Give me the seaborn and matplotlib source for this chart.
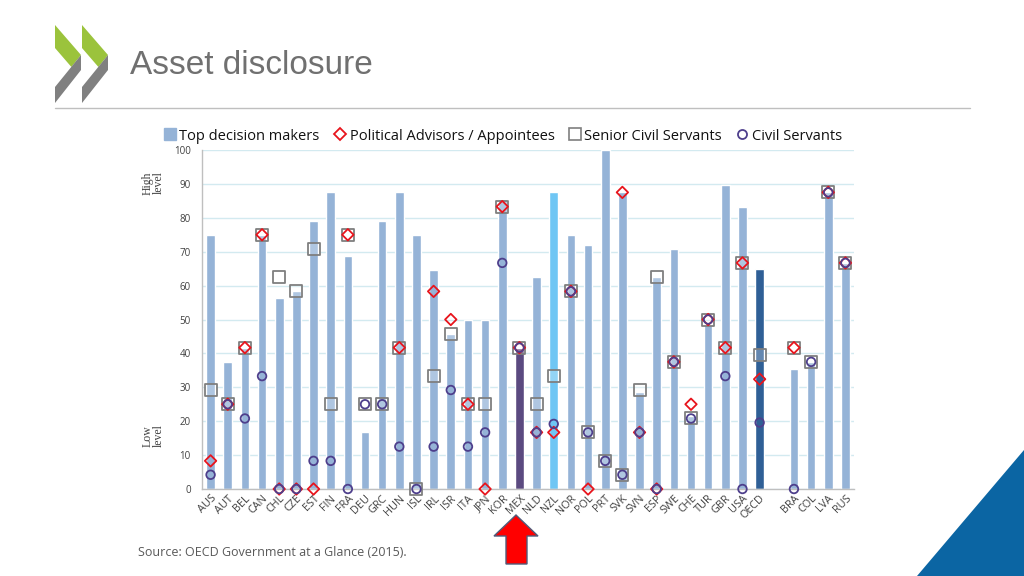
import matplotlib
matplotlib.use("Agg")
import matplotlib.pyplot as plt
from matplotlib.lines import Line2D
from matplotlib.patches import Polygon
import numpy as np
import pandas as pd
import seaborn as sns

# =============================================================================
# Data (share of positions, 0-100)
# =============================================================================
countries = ['AUS', 'AUT', 'BEL', 'CAN', 'CHL', 'CZE', 'EST', 'FIN', 'FRA', 'DEU',
             'GRC', 'HUN', 'ISL', 'IRL', 'ISR', 'ITA', 'JPN', 'KOR', 'MEX', 'NLD',
             'NZL', 'NOR', 'POL', 'PRT', 'SVK', 'SVN', 'ESP', 'SWE', 'CHE', 'TUR',
             'GBR', 'USA', 'OECD', '', 'BRA', 'COL', 'LVA', 'RUS']

top_decision = [75, 37.5, 41.7, 75, 56.25, 58.3, 79.2, 87.5, 68.75, 16.7,
                79.2, 87.5, 75, 64.6, 45.8, 50, 50, 85.4, 41.7, 62.5,
                87.5, 75, 72, 100, 87.5, 28.5, 62.5, 70.8, 21.5, 48.5,
                89.6, 83.3, 64.8, np.nan, 35.4, 37.5, 87.5, 66.7]

political = [8.3, 25, 41.7, 75, 0, 0, 0, np.nan, 75, np.nan,
             np.nan, 41.7, np.nan, 58.3, 50, 25, 0, 83.3, 41.7, 16.7,
             16.7, 58.3, 0, np.nan, 87.5, 16.7, 0, 37.5, 25, 50,
             41.7, 66.7, 32.4, np.nan, 41.7, np.nan, 87.5, 66.7]

senior = [29.2, 25, 41.7, 75, 62.5, 58.3, 70.8, 25, 75, 25,
          25, 41.7, 0, 33.3, 45.8, 25, 25, 83.3, 41.7, 25,
          33.3, 58.3, 16.7, 8.3, 4.2, 29.2, 62.5, 37.5, 20.8, 50,
          41.7, 66.7, 39.4, np.nan, 41.7, 37.5, 87.5, 66.7]

civil = [4.2, 25, 20.8, 33.3, 0, 0, 8.3, 8.3, 0, 25,
         25, 12.5, 0, 12.5, 29.2, 12.5, 16.7, 66.7, 41.7, 16.7,
         19.2, 58.3, 16.7, 8.3, 4.2, 16.7, 0, 37.5, 20.8, 50,
         33.3, 0, 19.6, np.nan, 0, 37.5, 87.5, 66.7]

bar_blue = '#95b3d7'
highlight = {'MEX': '#5b4a80', 'NZL': '#6fc6f4', 'OECD': '#2f5f96'}
palette = {c: highlight.get(c, bar_blue) for c in countries}

df = pd.DataFrame({'country': countries, 'top': top_decision})
pos = np.arange(len(countries))

# =============================================================================
# Figure
# =============================================================================
sns.set_theme(style='white')
plt.rcParams['font.family'] = ['Open Sans', 'DejaVu Sans']

fig = plt.figure(figsize=(10.24, 5.76), dpi=100)
W, H = 1024, 576
ax = fig.add_axes([202 / W, 87 / H, 652 / W, 339 / H])

sns.barplot(data=df, x='country', y='top', hue='country', order=countries,
            hue_order=countries, palette=palette, legend=False, width=0.5,
            errorbar=None, saturation=1, ax=ax, zorder=2)

ax.scatter(pos, senior, marker='s', s=80, facecolors=(1, 1, 1, 0.25),
           edgecolors='#7f7f7f', linewidths=1.3, zorder=3, clip_on=False)
ax.scatter(pos, political, marker='D', s=34, facecolors='none',
           edgecolors='#e8141c', linewidths=1.3, zorder=4, clip_on=False)
ax.scatter(pos, civil, marker='o', s=38, facecolors='none',
           edgecolors='#4e3f8c', linewidths=1.3, zorder=5, clip_on=False)

ax.set_xlim(-0.5, len(countries) - 0.5)
ax.set_ylim(0, 100)
ax.set_yticks(range(0, 101, 10))
ax.yaxis.grid(True, color='#d3eaf0', linewidth=1)
ax.set_axisbelow(True)
ax.set_xlabel('')
ax.set_ylabel('')
ax.tick_params(axis='y', labelsize=7, colors='#404040', length=0, pad=8)
ax.tick_params(axis='x', labelsize=7.8, colors='#404040', length=0, pad=3)
ax.set_xticks(pos)
ax.set_xticklabels(countries, rotation=45, ha='right', rotation_mode='anchor')
# small tick marks between categories
ax.set_xticks(pos[:-1] + 0.5, minor=True)
ax.tick_params(axis='x', which='minor', length=3, color='#bfbfbf', width=0.8)
for s in ['top', 'right']:
    ax.spines[s].set_visible(False)
for s in ['left', 'bottom']:
    ax.spines[s].set_color('#bfbfbf')
    ax.spines[s].set_linewidth(1)

# side labels
fig.text(153 / W, 1 - 183 / H, 'High\nlevel', rotation=90, ha='center', va='center',
         family=['Liberation Serif', 'DejaVu Serif'], fontsize=8.5, color='#404040',
         linespacing=0.9)
fig.text(153 / W, 1 - 436 / H, 'Low\nlevel', rotation=90, ha='center', va='center',
         family=['Liberation Serif', 'DejaVu Serif'], fontsize=8.5, color='#404040',
         linespacing=0.9)

# legend
handles = [
    Line2D([], [], marker='s', linestyle='none', markersize=8, markerfacecolor=bar_blue,
           markeredgecolor=bar_blue),
    Line2D([], [], marker='D', linestyle='none', markersize=6, markerfacecolor='none',
           markeredgecolor='#e8141c', markeredgewidth=1.3),
    Line2D([], [], marker='s', linestyle='none', markersize=9, markerfacecolor='white',
           markeredgecolor='#7f7f7f', markeredgewidth=1.2),
    Line2D([], [], marker='o', linestyle='none', markersize=6.5, markerfacecolor='none',
           markeredgecolor='#4e3f8c', markeredgewidth=1.3),
]
labels = ['Top decision makers', 'Political Advisors / Appointees',
          'Senior Civil Servants', 'Civil Servants']
fig.legend(handles, labels, loc='center', bbox_to_anchor=(503 / W, 1 - 136 / H), ncol=4,
           frameon=False, fontsize=10.5, handlelength=0.8, handletextpad=0.25,
           columnspacing=1.0, labelcolor='#111111')

# title and header line
fig.text(130 / W, 1 - 65 / H, 'Asset disclosure', ha='left', va='center',
         family=['Liberation Sans', 'DejaVu Sans'], fontsize=24, color='#707070')
fig.add_artist(Line2D([55 / W, 970 / W], [1 - 108 / H, 1 - 108 / H],
                      color='#bfbfbf', linewidth=1, transform=fig.transFigure))

# OECD chevrons
def px(pts):
    return [(x / W, 1 - y / H) for x, y in pts]

for x0 in (55, 82):
    green = [(x0, 25), (x0 + 26, 55), (x0 + 16.4, 67), (x0, 48)]
    grey = [(x0, 87), (x0 + 26, 55), (x0 + 26, 70), (x0, 103)]
    fig.add_artist(Polygon(px(green), closed=True, facecolor='#9bc33c', edgecolor='none',
                           transform=fig.transFigure))
    fig.add_artist(Polygon(px(grey), closed=True, facecolor='#808080', edgecolor='none',
                           transform=fig.transFigure))

# red arrow pointing at MEX
arrow = [(516, 515), (538, 536), (527, 536), (527, 564), (506, 564), (506, 536), (494, 536)]
fig.add_artist(Polygon(px(arrow), closed=True, facecolor='#ff0000', edgecolor='#4f5b7a',
                       linewidth=1, transform=fig.transFigure))

# blue corner triangle
fig.add_artist(Polygon(px([(917, 576), (1024, 576), (1024, 450)]), closed=True,
                       facecolor='#0b65a3', edgecolor='none', transform=fig.transFigure))

# source
fig.text(138 / W, 1 - 552 / H, 'Source: OECD Government at a Glance (2015).', ha='left',
         va='center', fontsize=9, color='#595959')

fig.savefig('out.png', dpi=100)
